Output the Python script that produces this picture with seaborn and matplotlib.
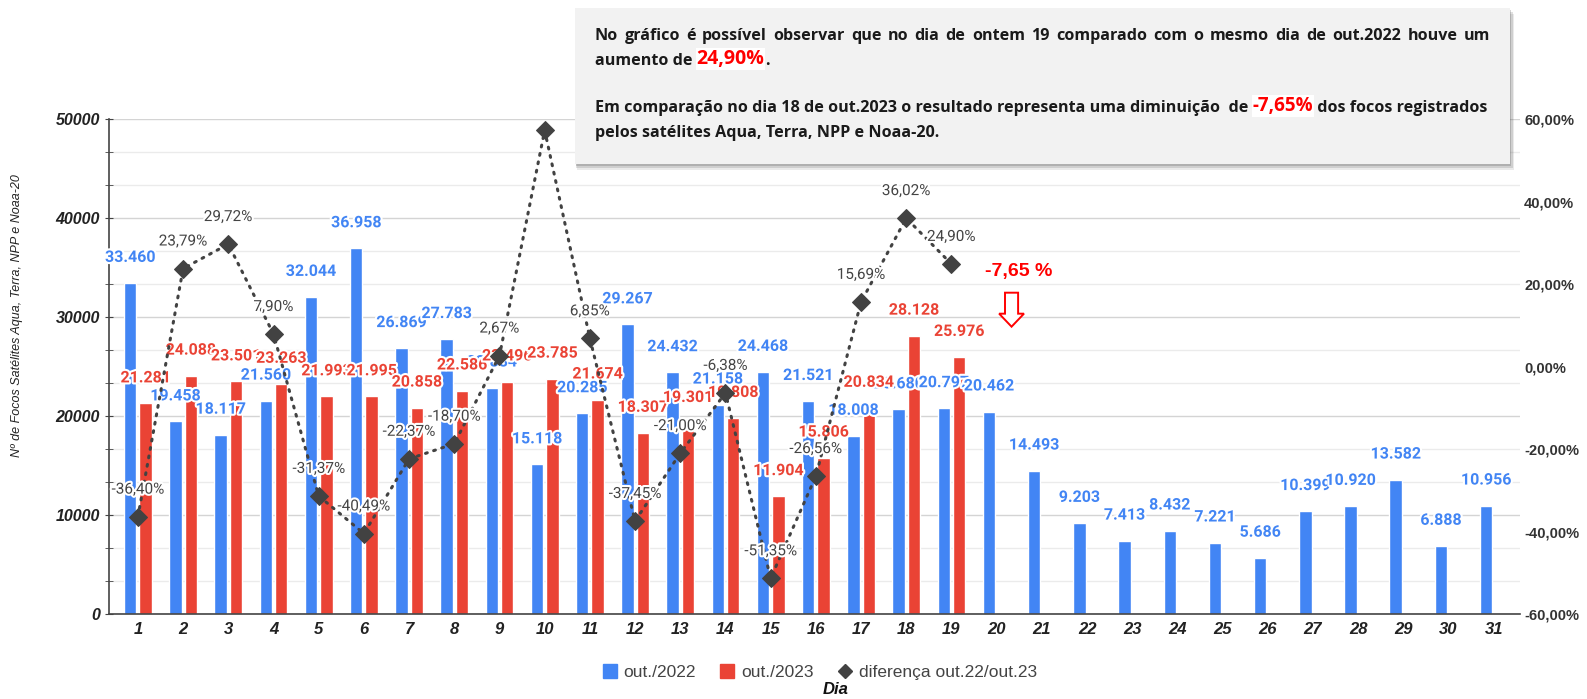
import numpy as np
import pandas as pd
import seaborn as sns
import matplotlib.pyplot as plt
import matplotlib.patheffects as pe
from matplotlib.patches import Rectangle, FancyArrow
from matplotlib.lines import Line2D
from matplotlib.text import Annotation
from matplotlib.ticker import MultipleLocator

# dados
days = list(range(1, 32))
out_2022 = [33460, 19458, 18117, 21560, 32044, 36958, 26869, 27783, 22884, 15118,
            20285, 29267, 24432, 21158, 24468, 21521, 18008, 20680, 20797, 20462,
            14493, 9203, 7413, 8432, 7221, 5686, 10399, 10920, 13582, 6888, 10956]
out_2023 = [21281, 24088, 23501, 23263, 21993, 21995, 20858, 22586, 23496, 23785,
            21674, 18307, 19301, 19808, 11904, 15806, 20834, 28128, 25976]
diff_pct = [-36.40, 23.79, 29.72, 7.90, -31.37, -40.49, -22.37, -18.70, 2.67, 57.33,
            6.85, -37.45, -21.00, -6.38, -51.35, -26.56, 15.69, 36.02, 24.90]
series_names = ["out./2022", "out./2023"]
diff_name = "diferença out.22/out.23"
left_ticks = [0, 10000, 20000, 30000, 40000, 50000]
right_ticks = [-60, -40, -20, 0, 20, 40, 60]
hidden_diff_label = [10]  # fica escondido atras da caixa de texto

BLUE = "#4285f4"
RED = "#ea4335"
DARK = "#424242"

sns.set_style("white")
plt.rcParams["font.family"] = ["Liberation Sans", "DejaVu Sans"]

W, H = 1587, 699
fig = plt.figure(figsize=(W / 100, H / 100), dpi=100)
ax = fig.add_axes([109 / W, 1 - 614 / H, (1520 - 109) / W, (614 - 119.3) / H])

rows = [(str(d), series_names[0], v) for d, v in zip(days, out_2022)]
rows += [(str(d), series_names[1], v) for d, v in zip(days, out_2023)]
df = pd.DataFrame(rows, columns=["dia", "serie", "focos"])
order = [str(d) for d in days]

sns.barplot(data=df, x="dia", y="focos", hue="serie", order=order, hue_order=series_names,
            palette=[BLUE, RED], width=0.68, gap=0.19, saturation=1, errorbar=None,
            legend=False, ax=ax, zorder=2)

halo = [pe.withStroke(linewidth=3, foreground="white")]
for cont, col in zip(ax.containers, [BLUE, RED]):
    ax.bar_label(cont, fmt=lambda v: f"{v:,.0f}".replace(",", "."), padding=13,
                 color=col, fontsize=11.5, fontweight="bold", family="Roboto",
                 path_effects=halo, zorder=4)

ax.set_xlim(-0.64, 30.58)
ax.set_ylim(0, 50000)
ax.set_yticks(left_ticks)
ax.set_yticklabels([str(t) for t in left_ticks], fontsize=11.5, fontweight="bold",
                   style="italic", color="#222222")
ax.yaxis.set_minor_locator(MultipleLocator(10000 / 3))
ax.grid(axis="y", which="major", color="#d4d4d4", lw=1)
ax.grid(axis="y", which="minor", color="#ebebeb", lw=1)
ax.set_axisbelow(True)
ax.tick_params(axis="y", which="both", direction="inout", length=6, color="#444444", left=True)
ax.tick_params(axis="x", length=0, pad=6)
ax.set_xticklabels(order, fontsize=12, fontweight="bold", style="italic", color="#222222")
ax.set_xlabel("")
ax.set_ylabel("")
for s in ["top", "right"]:
    ax.spines[s].set_visible(False)
for s in ["left", "bottom"]:
    ax.spines[s].set_color("#444444")
    ax.spines[s].set_linewidth(1.2)

# eixo da direita com a diferenca percentual
ax2 = ax.twinx()
idx = np.arange(len(diff_pct))
sns.lineplot(x=idx, y=diff_pct, ax=ax2, color=DARK, lw=2.2,
             marker="D", markersize=9, markeredgecolor=DARK)
diff_line = ax2.lines[0]
diff_line.set_linestyle((0, (0.6, 2.2)))
diff_line.set_dash_capstyle("round")
ax2.set_ylim(-60, 60)
ax2.set_yticks(right_ticks)
ax2.set_yticklabels([f"{t:.2f}%".replace(".", ",") for t in right_ticks], fontsize=10.5,
                    fontweight="bold", color="#333333")
ax2.tick_params(axis="y", length=0, pad=3)
for s in ax2.spines.values():
    s.set_visible(False)

for i, v in enumerate(diff_pct):
    if days[i] in hidden_diff_label:
        continue
    ax2.annotate(f"{v:.2f}%".replace(".", ","), (i, v), xytext=(0, 19.5),
                 textcoords="offset points", ha="center", va="center", fontsize=11,
                 color="#444444", family="Roboto", path_effects=halo, zorder=5)

# destaque do dia 20
ax.text(19.49, 34600, "-7,65 %", color="#ff0000", fontsize=14, fontweight="bold",
        ha="center", va="center", zorder=6)
ax.add_patch(FancyArrow(19.33, 32475, 0, -3435, width=0.29, head_width=0.55, head_length=1314,
                        length_includes_head=True, fc="white", ec="#ff0000", lw=1.4, zorder=6))

fig.text(17 / W, 1 - 316 / H, "Nº de Focos Satélites Aqua, Terra, NPP e Noaa-20", rotation=90,
         style="italic", fontsize=9, color="#222222", ha="center", va="center")

# caixa de texto com sombra
bx0, by0, bx1, by1 = 575, 8, 1510, 164
for k, a in zip([6, 4, 2], [0.12, 0.18, 0.25]):
    fig.add_artist(Rectangle(((bx0 + k * 0.3) / W, 1 - (by1 + k) / H), (bx1 - bx0 + k * 0.4) / W,
                             (by1 - by0) / H, transform=fig.transFigure, color="#555555",
                             alpha=a, lw=0, zorder=1))
fig.add_artist(Rectangle((bx0 / W, 1 - by1 / H), (bx1 - bx0) / W, (by1 - by0) / H,
                         transform=fig.transFigure, facecolor="#f2f2f2", edgecolor="none", zorder=2))

box_font = dict(family="Open Sans", fontweight="bold", fontsize=11.6, color="#1a1a1a", zorder=3)
tx0, tx1 = 595, 1490
renderer = fig.canvas.get_renderer()


def justified(y, text):
    # espalha as palavras para ocupar a largura toda, como no original
    words = text.split(" ")
    arts = [fig.text(0, 1 - y / H, w, va="center", **box_font) for w in words]
    widths = [a.get_window_extent(renderer).width for a in arts]
    gap = ((tx1 - tx0) - sum(widths)) / (len(words) - 1)
    x = tx0
    for a, w in zip(arts, widths):
        a.set_x(x / W)
        x += w + gap


justified(36.5, "No gráfico é possível observar que no dia de ontem 19 comparado com o mesmo dia de out.2022 houve um")
t = fig.text(tx0 / W, 1 - 61 / H, "aumento de ", va="center", **box_font)
r = Annotation("24,90%", xy=(1, 0), xycoords=t, va="bottom", ha="left", family="Open Sans",
               fontweight="bold", fontsize=14, color="#ff0000", zorder=3,
               bbox=dict(facecolor="white", edgecolor="none", pad=0.5))
fig.add_artist(r)
fig.add_artist(Annotation(".", xy=(1, 0), xycoords=r, va="bottom", ha="left", **box_font))
t = fig.text(tx0 / W, 1 - 108 / H, "Em comparação no dia 18 de out.2023 o resultado representa uma diminuição  de ",
             va="center", **box_font)
r = Annotation("-7,65%", xy=(1, 0), xycoords=t, va="bottom", ha="left", family="Open Sans",
               fontweight="bold", fontsize=13.5, color="#ff0000", zorder=3,
               bbox=dict(facecolor="white", edgecolor="none", pad=0.5))
fig.add_artist(r)
fig.add_artist(Annotation(" dos focos registrados", xy=(1, 0), xycoords=r, va="bottom", ha="left", **box_font))
fig.text(tx0 / W, 1 - 133 / H, "pelos satélites Aqua, Terra, NPP e Noaa-20.", va="center", **box_font)

handles = [Line2D([], [], marker="s", color=BLUE, linestyle="", markersize=10),
           Line2D([], [], marker="s", color=RED, linestyle="", markersize=10),
           Line2D([], [], marker="D", color=DARK, linestyle="", markersize=7)]
fig.legend(handles, series_names + [diff_name], loc="center", bbox_to_anchor=(819 / W, 1 - 672 / H),
           ncol=3, frameon=False, prop={"family": "Liberation Sans", "size": 12.5}, labelcolor="#444444",
           handletextpad=0.3, columnspacing=1.3, handlelength=1.0)
fig.text(836 / W, 1 - 690 / H, "Dia", fontsize=12, fontweight="bold", style="italic",
         color="#111111", ha="center", va="center")

fig.savefig("out.png", dpi=100)
